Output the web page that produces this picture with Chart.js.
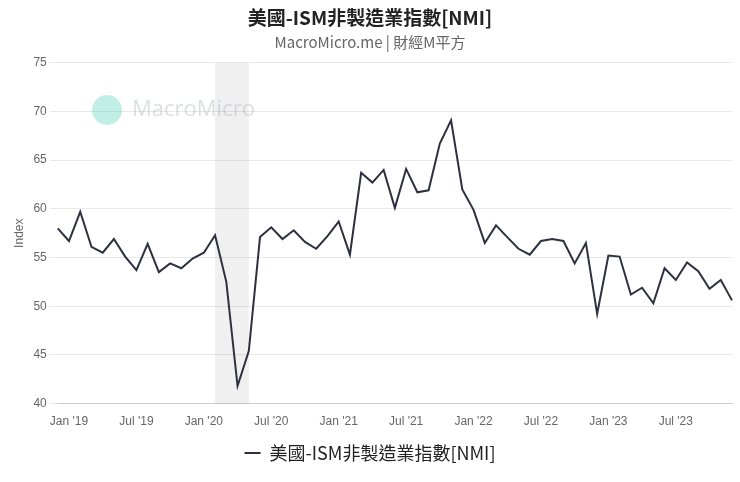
<!DOCTYPE html>
<html>
<head>
<meta charset="utf-8">
<script src="https://cdn.jsdelivr.net/npm/chart.js@4"></script>
<style>
  html, body { margin: 0; padding: 0; background: #fff; }
  #wrap { width: 740px; height: 482px; }
</style>
</head>
<body>
<div id="wrap"><canvas id="grafica"></canvas></div>
<script>
// Datos: mensual, dic 2018 – dic 2023
const meses = [];
for (let y = 2018; y <= 2023; y++) {
  for (let m = 1; m <= 12; m++) {
    if (y === 2018 && m < 12) continue;
    meses.push(y + "-" + String(m).padStart(2, "0"));
  }
}
const valores = [
  58.0,
  56.7, 59.7, 56.1, 55.5, 56.9, 55.1, 53.7, 56.4, 53.5, 54.4, 53.9, 54.9,
  55.5, 57.3, 52.5, 41.8, 45.4, 57.1, 58.1, 56.9, 57.8, 56.6, 55.9, 57.2,
  58.7, 55.3, 63.7, 62.7, 64.0, 60.1, 64.1, 61.7, 61.9, 66.7, 69.1, 62.0,
  59.9, 56.5, 58.3, 57.1, 55.9, 55.3, 56.7, 56.9, 56.7, 54.4, 56.5, 49.2,
  55.2, 55.1, 51.2, 51.9, 50.3, 53.9, 52.7, 54.5, 53.6, 51.8, 52.7, 50.6
];
const recesion = ["2020-02", "2020-05"];
const nombreMes = { "01": "Jan", "07": "Jul" };

// Sombreado de recesión + marca de agua
const fondo = {
  id: "fondo",
  beforeDatasetsDraw(chart) {
    const { ctx, chartArea, scales } = chart;
    const x0 = scales.x.getPixelForValue(meses.indexOf(recesion[0]));
    const x1 = scales.x.getPixelForValue(meses.indexOf(recesion[1]));
    ctx.save();
    ctx.fillStyle = "rgba(0,0,0,0.06)";
    ctx.fillRect(x0, chartArea.top, x1 - x0, chartArea.bottom - chartArea.top);
    // marca de agua
    ctx.globalAlpha = 0.35;
    ctx.fillStyle = "#4fd1b5";
    ctx.beginPath();
    ctx.arc(107, 110, 15, 0, Math.PI * 2);
    ctx.fill();
    ctx.fillStyle = "#9aa3ad";
    ctx.font = "22px 'Open Sans', sans-serif";
    ctx.textBaseline = "middle";
    ctx.fillText("MacroMicro", 132, 110);
    ctx.restore();
  }
};

const ctx = document.getElementById("grafica").getContext("2d");
new Chart(ctx, {
  type: "line",
  data: {
    labels: meses,
    datasets: [{
      label: "美國-ISM非製造業指數[NMI]",
      data: valores,
      borderColor: "#2e3040",
      borderWidth: 2,
      pointRadius: 0,
      tension: 0
    }]
  },
  options: {
    responsive: true,
    maintainAspectRatio: false,
    animation: false,
    layout: { padding: { left: 8, right: 8, top: 6, bottom: 10 } },
    plugins: {
      title: {
        display: true,
        text: "美國-ISM非製造業指數[NMI]",
        color: "#222",
        font: { size: 19, weight: "bold", family: "'Noto Sans CJK TC', sans-serif" },
        padding: { top: 0, bottom: 4 }
      },
      subtitle: {
        display: true,
        text: "MacroMicro.me | 財經M平方",
        color: "#666",
        font: { size: 15, family: "'Noto Sans CJK TC', sans-serif" },
        padding: { bottom: 12 }
      },
      legend: {
        position: "bottom",
        labels: {
          boxWidth: 16,
          boxHeight: 0,
          color: "#222",
          font: { size: 18, family: "'Noto Sans CJK TC', sans-serif" },
          padding: 12
        }
      },
      tooltip: { enabled: false }
    },
    scales: {
      x: {
        grid: { display: false },
        border: { color: "#ccc" },
        ticks: {
          autoSkip: false,
          maxRotation: 0,
          color: "#666",
          font: { size: 12 },
          callback(v) {
            const l = meses[v];
            const m = nombreMes[l.slice(5)];
            return m ? m + " '" + l.slice(2, 4) : null;
          }
        }
      },
      y: {
        min: 40,
        max: 75,
        ticks: { stepSize: 5, color: "#666", font: { size: 12 } },
        grid: { color: "#e8e8e8" },
        border: { display: false },
        title: { display: true, text: "Index", color: "#666", font: { size: 12 } }
      }
    }
  },
  plugins: [fondo]
});
</script>
</body>
</html>
